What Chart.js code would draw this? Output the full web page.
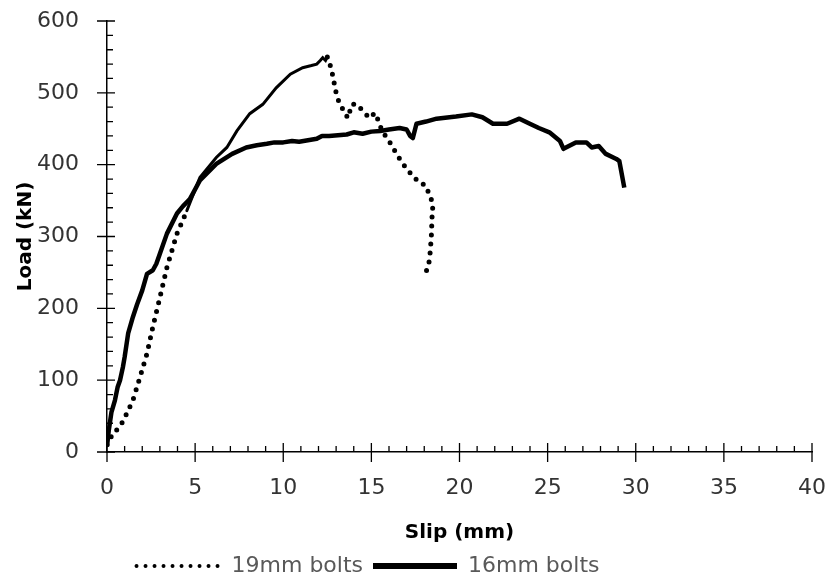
<!DOCTYPE html>
<html>
<head>
<meta charset="utf-8">
<script src="https://cdn.jsdelivr.net/npm/chart.js@4/dist/chart.umd.min.js"></script>
<style>
html,body{margin:0;padding:0;background:#fff}
canvas{display:block}
</style>
</head>
<body>
<canvas id="chart" width="829" height="587"></canvas>
<script>
// 19mm bolts: slip (mm) / load (kN)
const slip19=[0,0.34,0.74,1.13,1.47,1.87,2.27,2.6,3.0,3.4,3.97,4.53,5.27,6.2,6.8,7.37,8.1,8.84,9.6,10.4,11.1,11.6,11.9,12.1,12.24,12.4,12.5,12.6,12.75,13.0,13.2,13.45,13.66,13.9,14.2,14.5,14.9,15.2,15.4,15.6,16.0,16.5,17.0,17.45,17.7,18.1,18.3,18.5,18.45,18.4,18.3,18.1];
const load19=[10,26,35,54,72,104,137,174,215,257,304,336,382,410,424,447,471,484,507,526,535,538,540,545,549,545,550,544,531,500,484,475,465,484,484,475,465,472,461,447,433,412,394,382,375,371,357,346,332,299,267,250];

// 16mm bolts
const slip16=[0,0.1,0.25,0.45,0.6,0.74,0.9,1.0,1.2,1.47,1.7,2.0,2.27,2.6,2.8,3.0,3.4,3.97,4.3,4.7,5.27,6.2,7.1,7.9,8.5,9.07,9.5,10.0,10.5,10.9,11.4,11.9,12.2,12.6,13.1,13.6,14.0,14.5,15.0,15.5,16.0,16.6,17.0,17.2,17.35,17.56,18.1,18.7,19.8,20.7,21.3,21.9,22.7,23.4,23.9,24.5,25.1,25.7,25.9,26.6,27.2,27.5,27.9,28.3,28.9,29.07,29.35];
const load16=[8,30,55,72,90,100,118,132,165,188,205,225,248,253,262,276,304,332,342,352,378,401,415,424,427,429,431,431,433,432,434,436,440,440,441,442,445,443,446,447,449,451,449,440,437,457,460,464,467,470,466,457,457,464,458,451,445,433,422,431,431,424,426,415,408,405,368];

const xTicks=[0,40,5];    // min, max, step
const yTicks=[0,600,100];

const FONT="DejaVu Sans";
const pts=(xs,ys)=>xs.map((x,i)=>({x,y:ys[i]}));

// the 19mm trace reads as a continuous line where the logger was dense
const solid19=[4.4,12.5];
const inSolid=c=>c.p0.parsed.x>=solid19[0]&&c.p1.parsed.x<=solid19[1];

// major ticks cross the axis, minor ticks sit inside the plot
const axisTicks={id:"axisTicks",afterDraw(chart){
  const {ctx,scales:{x,y}}=chart;
  const x0=x.getPixelForValue(0), y0=y.getPixelForValue(0);
  ctx.save(); ctx.strokeStyle="#000"; ctx.lineWidth=1.3; ctx.beginPath();
  for(let v=xTicks[0];v<=xTicks[1];v++){
    const p=x.getPixelForValue(v);
    if(v%5===0){ctx.moveTo(p,y0-9);ctx.lineTo(p,y0+10);}
    else{ctx.moveTo(p,y0);ctx.lineTo(p,y0-6);}
  }
  for(let v=yTicks[0];v<=yTicks[1];v+=20){
    const p=y.getPixelForValue(v);
    if(v%100===0){ctx.moveTo(x0-10,p);ctx.lineTo(x0+8,p);}
    else{ctx.moveTo(x0,p);ctx.lineTo(x0+6,p);}
  }
  ctx.stroke(); ctx.restore();
}};

// legend sits a little left of the canvas centre
const legendShift={id:"legendShift",afterLayout(chart){
  const l=chart.legend; l.left-=38; l.right-=38;
}};

// legend samples copy each dataset's line style
const legendLines=[{dash:[0,9],width:4},{dash:[],width:6}];
function makeLabels(chart){
  const items=Chart.defaults.plugins.legend.labels.generateLabels(chart);
  items.forEach(it=>{
    const s=legendLines[it.datasetIndex];
    it.lineDash=s.dash; it.lineWidth=s.width; it.lineCap=s.dash.length?"round":"butt"; it.strokeStyle="#000";
  });
  return items;
}

new Chart(document.getElementById("chart"),{
  type:"line",
  data:{datasets:[
    {label:"19mm bolts",data:pts(slip19,load19),borderColor:"#000",borderWidth:5,
      borderDash:[0,9],borderCapStyle:"round",pointRadius:0,tension:0,
      segment:{borderDash:c=>inSolid(c)?[]:undefined,borderWidth:c=>inSolid(c)?3:undefined}},
    {label:"16mm bolts",data:pts(slip16,load16),borderColor:"#000",borderWidth:4.5,
      borderCapStyle:"butt",borderJoinStyle:"round",pointRadius:0,tension:0}
  ]},
  options:{
    responsive:false,animation:false,devicePixelRatio:1,
    layout:{padding:{top:21,right:17,left:0,bottom:0}},
    plugins:{
      legend:{position:"bottom",labels:{usePointStyle:true,pointStyle:"line",pointStyleWidth:84,boxWidth:84,
        color:"#595959",font:{family:FONT,size:22},padding:10,generateLabels:makeLabels}},
      tooltip:{enabled:false}
    },
    scales:{
      x:{type:"linear",min:xTicks[0],max:xTicks[1],
        ticks:{stepSize:xTicks[2],color:"#333",font:{family:FONT,size:22},padding:3},
        grid:{drawOnChartArea:false,drawTicks:true,tickLength:20,color:"transparent"},
        border:{display:true,color:"#000",width:1.5},
        title:{display:true,text:"Slip (mm)",color:"#000",font:{family:FONT,size:20,weight:"bold"},padding:{top:0,bottom:0}},
        afterFit(s){s.height=93;}},
      y:{type:"linear",min:yTicks[0],max:yTicks[1],
        ticks:{stepSize:yTicks[2],color:"#333",font:{family:FONT,size:22},padding:3},
        grid:{drawOnChartArea:false,drawTicks:true,tickLength:25,color:"transparent"},
        border:{display:true,color:"#000",width:1.5},
        title:{display:true,text:"Load (kN)",color:"#000",font:{family:FONT,size:20,weight:"bold"},padding:{top:14,bottom:0}},
        afterFit(s){s.width=107;}}
    }
  },
  plugins:[axisTicks,legendShift]
});
</script>
</body>
</html>
